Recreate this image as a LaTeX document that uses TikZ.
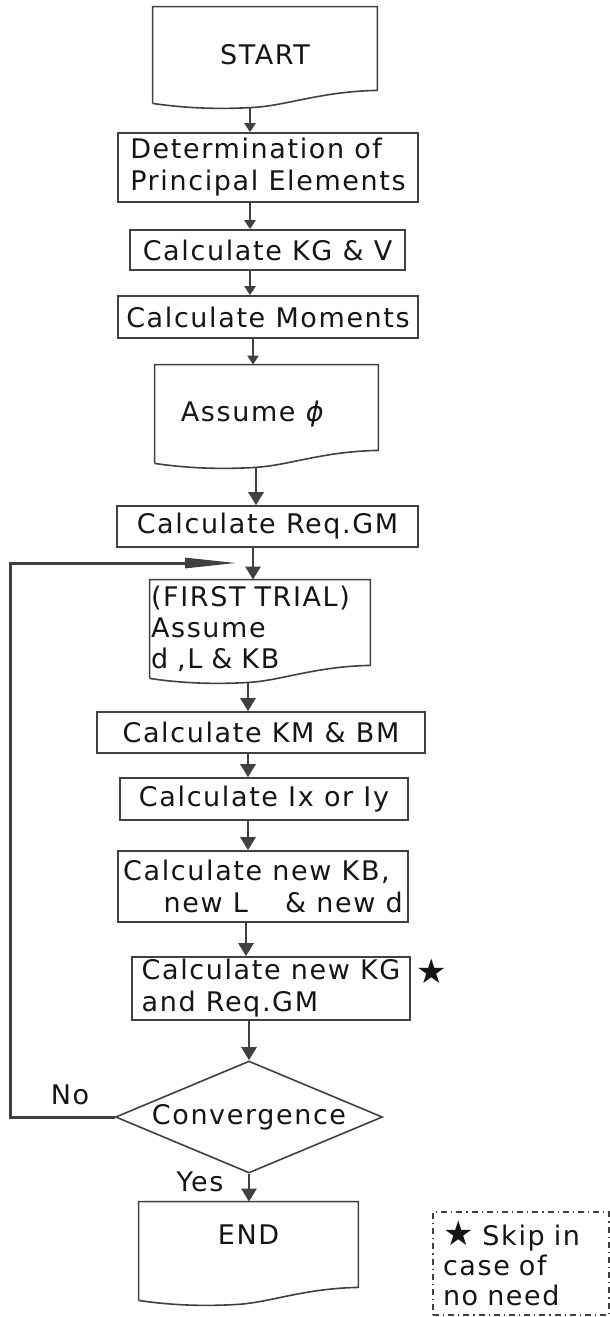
\documentclass[tikz,border=0pt]{standalone}
\usepackage{fontspec}
\setmainfont{DejaVu Sans}[LetterSpace=6]
\usepackage{xcolor}
\usepackage{tikz}
\usetikzlibrary{arrows.meta,shapes.geometric,calc}

\definecolor{linegray}{HTML}{404040}
\definecolor{textgray}{HTML}{151515}

\tikzset{
  boxfont/.style={font=\fontsize{13.5}{16}\selectfont, text=textgray},
  procbox/.style={rectangle, draw=linegray, line width=0.8pt, inner sep=0pt, align=center, boxfont},
  docbox/.style={rectangle, inner sep=0pt, align=center, boxfont},
  decision/.style={diamond, aspect=2.4, draw=linegray, line width=0.8pt, inner sep=0pt, boxfont},
  flowline/.style={->, draw=linegray, line width=1.1pt},
  bigflow/.style={-{Triangle[length=6.5pt,width=7.5pt]}, draw=linegray, line width=1.3pt},
  loopline/.style={-{Triangle[length=26pt,width=5pt]}, draw=linegray, line width=1.5pt},
  notebox/.style={rectangle, draw=linegray, line width=0.6pt, dash dot, inner xsep=5pt, align=left, boxfont},
  tag/.style={inner sep=0pt, boxfont}
}

\newcommand{\bigstar}{{\fontsize{17}{16}\selectfont ★}}

% outline of a document symbol round a node
\newcommand{\docoutline}[1]{%
  \draw[draw=linegray, line width=0.8pt] (#1.south west) -- (#1.north west) -- (#1.north east)
    -- ($(#1.south east)+(0,-13)$)
    .. controls ($(#1.south west)!0.75!(#1.south east)+(0,-12)$) and ($(#1.south west)!0.6!(#1.south east)+(0,2)$)
    .. ($(#1.south west)!0.45!(#1.south east)+(0,4)$)
    .. controls ($(#1.south west)!0.3!(#1.south east)+(0,6)$) and ($(#1.south west)!0.15!(#1.south east)+(0,5)$)
    .. (#1.south west);}

\begin{document}
\begin{tikzpicture}[x=0.5pt,y=-0.5pt]
\useasboundingbox (0,0) rectangle (610,1317);
\begin{scope}[>={Triangle[length=4.5pt,width=5.5pt]}]

    \node[docbox, minimum width=112pt, minimum height=48pt] (start) at (265,55) {START};
    \docoutline{start}
    \node[procbox, minimum width=150pt, minimum height=34.5pt, align=left] (princ) at (268,167.5)
        {Determination of\\Principal Elements};
    \node[procbox, minimum width=137.5pt, minimum height=20pt] (kgv) at (267.5,250) {Calculate KG \& V};
    \node[procbox, minimum width=150pt, minimum height=21pt] (mom) at (268,317) {Calculate Moments};
    \node[docbox, minimum width=111.5pt, minimum height=49pt] (phi) at (266.5,414) {Assume \textit{ϕ}\hspace*{1em}};
    \docoutline{phi}
    \node[procbox, minimum width=150.5pt, minimum height=20.5pt] (req) at (267.5,526.5) {Calculate Req.GM};
    \node[docbox, minimum width=110pt, minimum height=49pt, text width=109pt, inner xsep=0.5pt,
          align=left, font=\fontsize{13.5}{15.5}\selectfont] (trial) at (260,629)
        {(FIRST TRIAL)\\Assume\\d ,L \& KB};
    \docoutline{trial}
    \node[procbox, minimum width=164pt, minimum height=20.5pt] (kmbm) at (261,732.5) {Calculate KM \& BM};
    \node[procbox, minimum width=144pt, minimum height=21pt] (ixy) at (264,799) {Calculate Ix or Iy};
    \node[procbox, minimum width=145pt, minimum height=35.5pt, align=left] (newkb) at (263,886.5)
        {Calculate new KB,\\\hspace*{1.5em}new L\quad\ \& new d};
    \node[procbox, minimum width=139pt, minimum height=31.5pt, align=left] (newkg) at (271,988.5)
        {Calculate new KG\\and Req.GM};
    \node[decision, minimum width=133.5pt, minimum height=56pt] (conv) at (249,1117) {Convergence};
    \node[docbox, minimum width=109.5pt, minimum height=49pt] (end) at (248.5,1251) {END\\\mbox{}};
    \docoutline{end}

    \node[tag] (star) at (432,971) {\bigstar};
    \node[tag] (no) at (70,1095) {No};
    \node[tag] (yes) at (200,1182) {Yes};
    \node[notebox, minimum width=88pt, minimum height=51.5pt, text width=78pt,
          font=\fontsize{13.5}{15}\selectfont] (note) at (521,1263.5)
        {\bigstar\ Skip in\\case of\\no need};

    \draw[flowline] ([yshift=-2pt]start.south -| 250,0) -- (princ.north -| 250,0);
    \draw[flowline] (princ.south -| 250,0) -- (kgv.north -| 250,0);
    \draw[flowline] (kgv.south -| 250,0) -- (mom.north -| 250,0);
    \draw[flowline] (mom.south -| 253,0) -- (phi.north -| 253,0);
    \draw[bigflow] ([yshift=-2pt]phi.south -| 256,0) -- (req.north -| 256,0);
    \draw[bigflow] (req.south -| 253,0) -- (trial.north -| 253,0);
    \draw[bigflow] ([yshift=-2pt]trial.south -| 248,0) -- (kmbm.north -| 248,0);
    \draw[bigflow] (kmbm.south -| 248,0) -- (ixy.north -| 248,0);
    \draw[bigflow] (ixy.south -| 248,0) -- (newkb.north -| 248,0);
    \draw[bigflow] (newkb.south -| 246,0) -- (newkg.north -| 246,0);
    \draw[bigflow] (newkg.south -| conv.north) -- (conv.north);
    \draw[bigflow] (conv.south) -- (end.north -| conv.south);

    \coordinate (loopcorner) at (10,563);
    \coordinate (looptip) at (237,563);
    \draw[loopline] (conv.west) -| (loopcorner) -- (looptip);
\end{scope}
\end{tikzpicture}
\end{document}
